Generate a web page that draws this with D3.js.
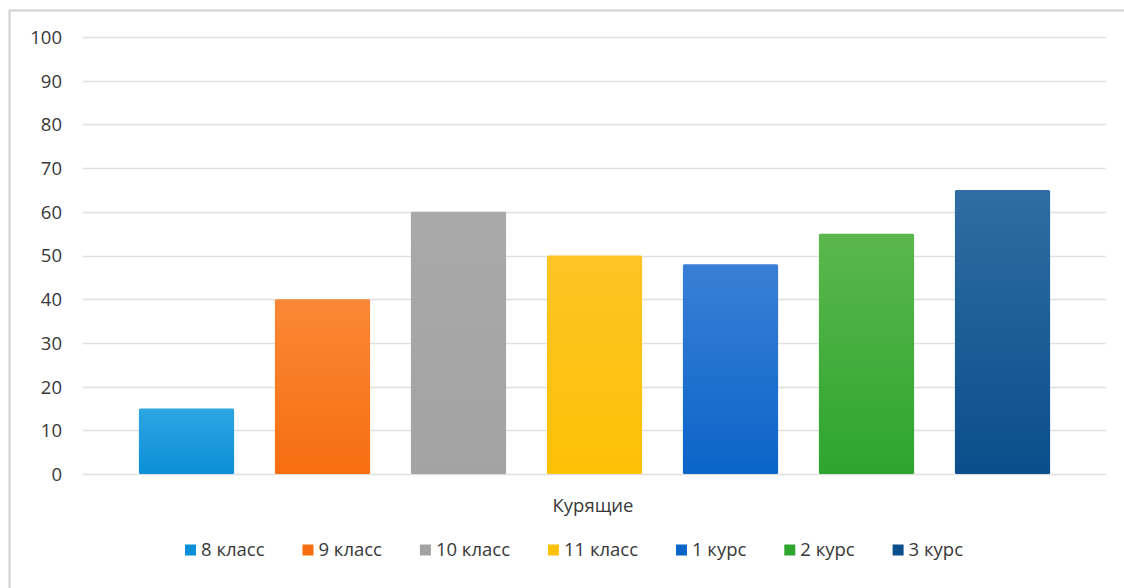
<!DOCTYPE html>
<html>
<head>
<meta charset="utf-8">
<script src="https://cdn.jsdelivr.net/npm/d3@7"></script>
<style>
  body { margin: 0; background: #fff; }
  text { font-family: "Open Sans", "Liberation Sans", sans-serif; fill: #383838; }
</style>
</head>
<body>
<svg id="chart" width="1124" height="588"></svg>
<script>
// DATA
const category = "Курящие";
const seriesNames = ["8 класс", "9 класс", "10 класс", "11 класс", "1 курс", "2 курс", "3 курс"];
const seriesValues = [15, 40, 60, 50, 48, 55, 65];
const yTicks = [0, 10, 20, 30, 40, 50, 60, 70, 80, 90, 100];
// top / bottom colours of each bar gradient
const colorsTop = ["#2ea5e2", "#fa8836", "#a9a9a9", "#fdc425", "#3a7fd6", "#5ab74c", "#2f6da2"];
const colorsBottom = ["#0b8fd6", "#f76e10", "#a3a3a3", "#fdc106", "#0a65c8", "#2ea52f", "#0a4e8b"];

const fontSize = "18.5px";
const svg = d3.select("#chart");

// outer chart frame (only left/top edge in view)
svg.append("rect")
  .attr("x", 9.5).attr("y", 10.5)
  .attr("width", 1130).attr("height", 600)
  .attr("fill", "none")
  .attr("stroke", "#cfcfcf")
  .attr("stroke-width", 2);

const plot = {left: 83, right: 1106, top: 37, bottom: 474};

const y = d3.scaleLinear().domain([0, 100]).range([plot.bottom, plot.top]);

// category band then series bands inside it
const x0 = d3.scaleBand().domain([category]).range([plot.left, plot.right]).padding(0);
const x1 = d3.scaleBand()
  .domain(seriesNames)
  .range([x0(category) + 35.5, x0(category) + x0.bandwidth() - 35.5])
  .paddingInner(0.3)
  .paddingOuter(0.15);

// gridlines
svg.append("g")
  .selectAll("line")
  .data(yTicks)
  .join("line")
  .attr("x1", plot.left).attr("x2", plot.right)
  .attr("y1", d => Math.round(y(d)) + 0.5)
  .attr("y2", d => Math.round(y(d)) + 0.5)
  .attr("stroke", "#e0e0e0")
  .attr("stroke-width", 1.3);

// y axis labels
const yAxis = d3.axisLeft(y).tickValues(yTicks).tickSize(0).tickPadding(0);
const gy = svg.append("g").attr("transform", "translate(62,0)").call(yAxis);
gy.select(".domain").remove();
gy.selectAll("text")
  .style("font-size", fontSize)
  .attr("fill", "#383838")
  .attr("dy", "0.35em");

// gradients
const defs = svg.append("defs");
seriesNames.forEach((s, i) => {
  const g = defs.append("linearGradient")
    .attr("id", "grad" + i)
    .attr("x1", 0).attr("y1", 0).attr("x2", 0).attr("y2", 1);
  g.append("stop").attr("offset", "0%").attr("stop-color", colorsTop[i]);
  g.append("stop").attr("offset", "100%").attr("stop-color", colorsBottom[i]);
});

// bars
svg.append("g")
  .selectAll("rect")
  .data(seriesValues)
  .join("rect")
  .attr("x", (d, i) => x1(seriesNames[i]))
  .attr("y", d => y(d))
  .attr("width", x1.bandwidth())
  .attr("height", d => y(0) - y(d))
  .attr("rx", 1.5)
  .attr("fill", (d, i) => "url(#grad" + i + ")");

// category label
svg.append("text")
  .attr("x", 593)
  .attr("y", 512)
  .attr("text-anchor", "middle")
  .style("font-size", fontSize)
  .text(category);

// legend: measure the texts, then spread items between legendLeft and legendRight
const legendLeft = 185, legendRight = 963;
const legend = svg.append("g");
const items = seriesNames.map((s, i) => {
  const item = legend.append("g");
  item.append("rect")
    .attr("x", 0).attr("y", -5.5)
    .attr("width", 11).attr("height", 11)
    .attr("fill", colorsBottom[i]);
  const t = item.append("text")
    .attr("x", 16).attr("y", 0)
    .attr("dy", "0.35em")
    .style("font-size", fontSize)
    .text(s);
  return {g: item, w: 16 + t.node().getComputedTextLength()};
});
const totalW = d3.sum(items, d => d.w);
const gap = (legendRight - legendLeft - totalW) / (items.length - 1);
let lx = legendLeft;
items.forEach(d => {
  d.g.attr("transform", "translate(" + lx + ",550)");
  lx += d.w + gap;
});
</script>
</body>
</html>
